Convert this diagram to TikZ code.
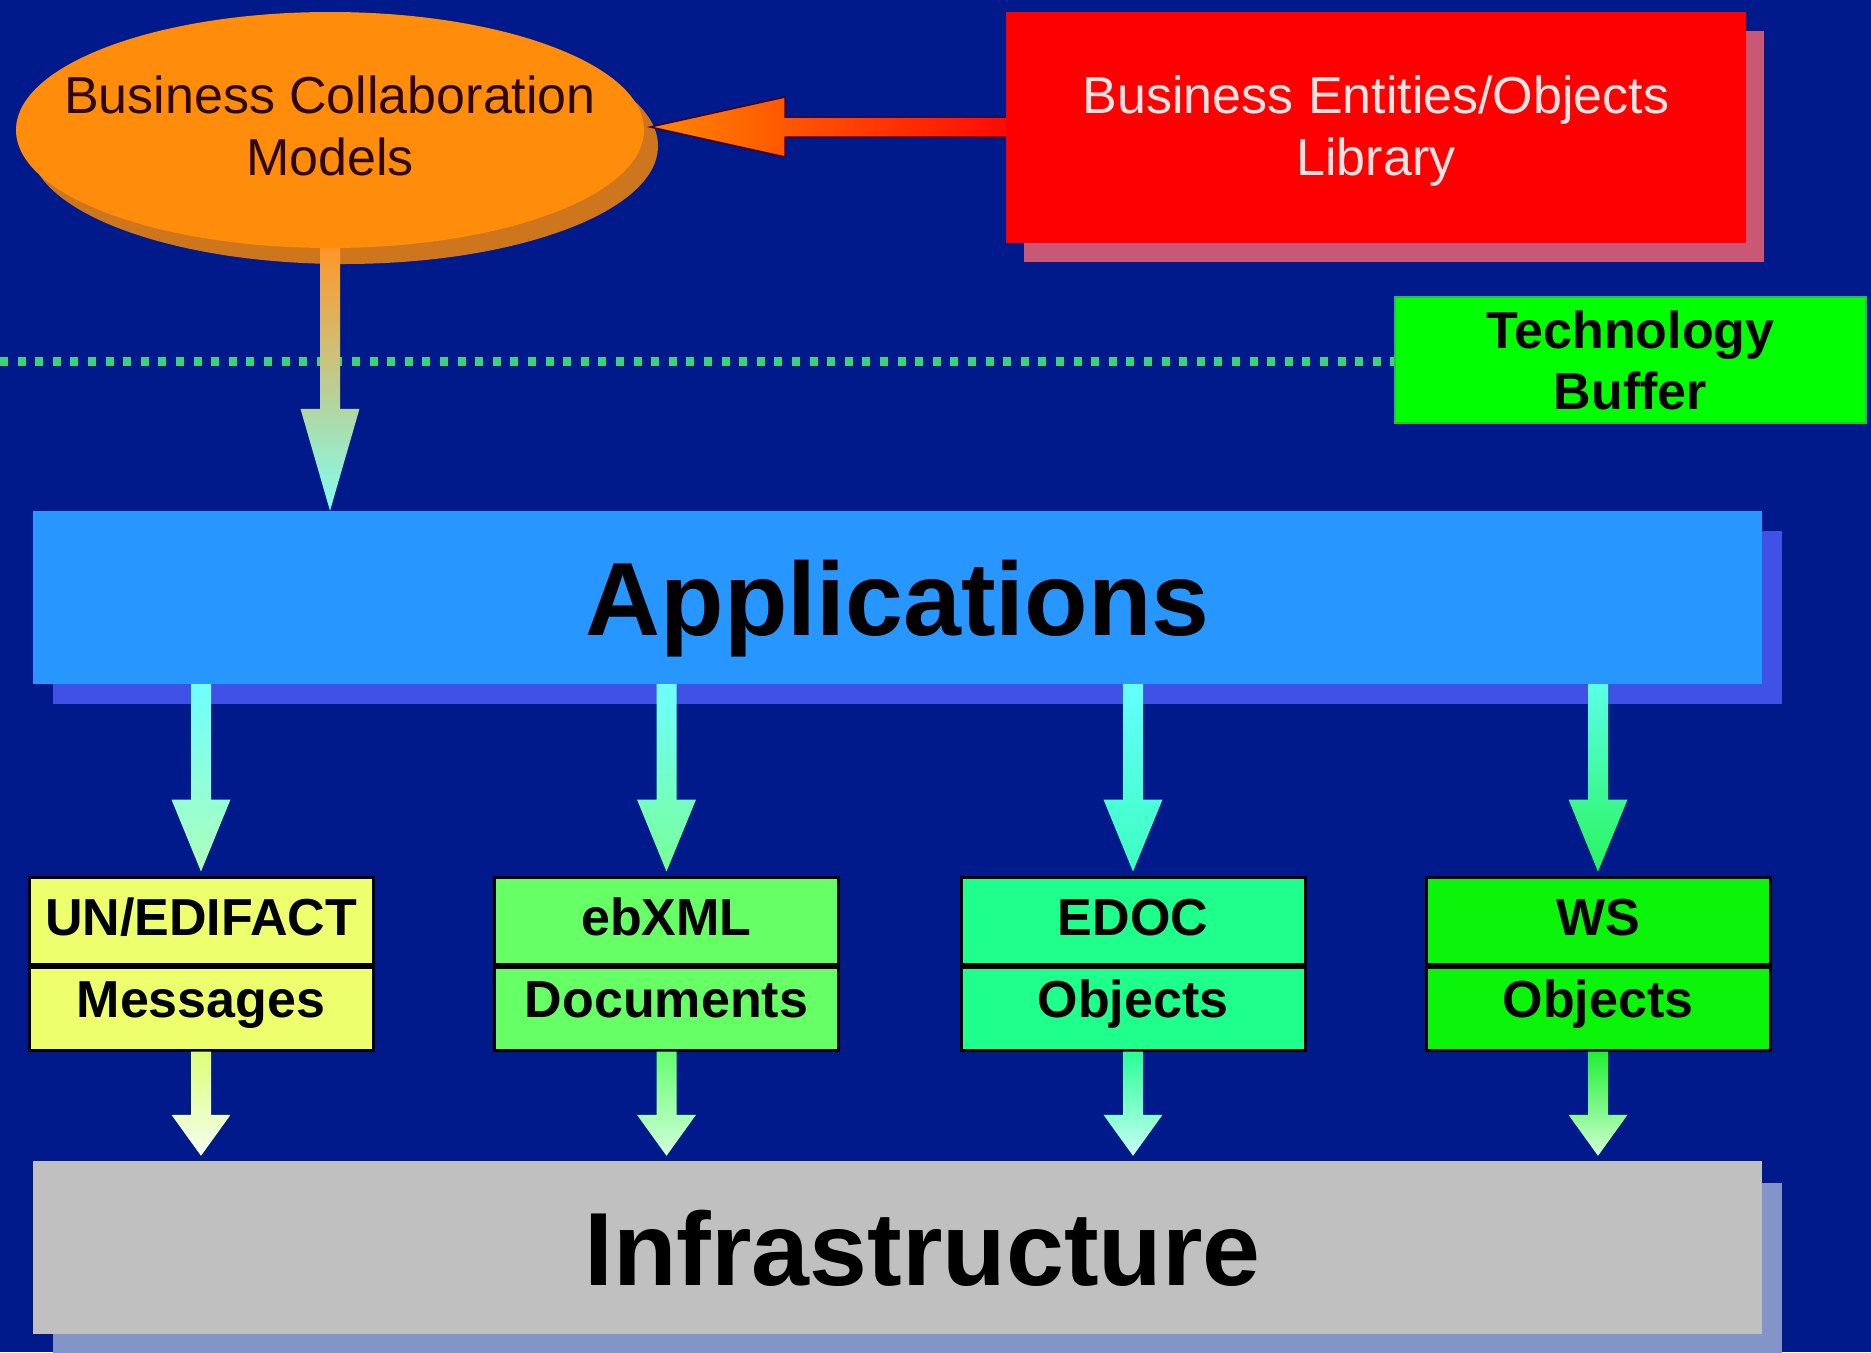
\documentclass[tikz,border=0pt]{standalone}
\usepackage{fontspec}
\setmainfont{Liberation Sans}
\usetikzlibrary{shapes.geometric,calc}
\definecolor{bgnavy}{RGB}{0,26,140}
\definecolor{ellorange}{RGB}{255,140,10}
\definecolor{ellshadow}{RGB}{205,118,30}
\definecolor{elltext}{RGB}{45,8,0}
\definecolor{libred}{RGB}{255,0,0}
\definecolor{libshadow}{RGB}{200,88,115}
\definecolor{libtext}{RGB}{255,228,228}
\definecolor{techgreen}{RGB}{0,255,0}
\definecolor{techedge}{RGB}{40,190,70}
\definecolor{dotgreen}{RGB}{60,210,125}
\definecolor{appblue}{RGB}{40,150,255}
\definecolor{appshadow}{RGB}{64,82,230}
\definecolor{infgray}{RGB}{192,192,192}
\definecolor{infshadow}{RGB}{130,148,200}
\definecolor{boxA}{RGB}{238,255,110}
\definecolor{boxB}{RGB}{102,255,102}
\definecolor{boxC}{RGB}{30,255,140}
\definecolor{boxD}{RGB}{10,245,10}
\definecolor{arrowedge}{RGB}{70,0,40}
\definecolor{raTip}{RGB}{255,135,0}
\definecolor{raMid}{RGB}{255,75,0}
\definecolor{raEnd}{RGB}{255,10,0}
\definecolor{oaTop}{RGB}{255,150,40}
\definecolor{oaMid}{RGB}{215,195,120}
\definecolor{oaBot}{RGB}{130,255,240}
\definecolor{uTopA}{RGB}{110,255,255}
\definecolor{uBotA}{RGB}{175,255,185}
\definecolor{uTopB}{RGB}{110,255,255}
\definecolor{uBotB}{RGB}{120,255,150}
\definecolor{uTopC}{RGB}{100,255,255}
\definecolor{uBotC}{RGB}{60,255,190}
\definecolor{uTopD}{RGB}{90,255,230}
\definecolor{uBotD}{RGB}{40,245,90}
\definecolor{lTopA}{RGB}{220,255,120}
\definecolor{lBotA}{RGB}{245,255,240}
\definecolor{lTopB}{RGB}{100,255,110}
\definecolor{lBotB}{RGB}{210,255,220}
\definecolor{lTopC}{RGB}{40,255,150}
\definecolor{lBotC}{RGB}{200,255,245}
\definecolor{lTopD}{RGB}{30,240,50}
\definecolor{lBotD}{RGB}{210,255,210}

\newcommand{\blockdown}[5]{%
  \shade[top color=#4, bottom color=#5]
    ($(#1)+(-10,0)$) -- ($(#2)+(-10,-#3)$) -- ($(#2)+(-29.5,-#3)$) -- (#2)
    -- ($(#2)+(29.5,-#3)$) -- ($(#2)+(10,-#3)$) -- ($(#1)+(10,0)$) -- cycle;}

\begin{document}
\begin{tikzpicture}[x=1pt,y=-1pt,
  bar/.style={rectangle, inner sep=0pt, minimum width=1729pt, minimum height=173pt,
    font=\fontsize{104}{110}\selectfont\bfseries, text depth=0pt},
  celltop/.style={rectangle, draw=black, line width=3pt, inner sep=0pt,
    minimum width=344pt, minimum height=87pt, text height=37pt, text depth=8pt,
    font=\fontsize{52}{60}\selectfont\bfseries},
  cellbot/.style={celltop, minimum height=83pt, text depth=20pt},
  plaintxt/.style={align=center, inner sep=0pt, font=\fontsize{52}{62}\selectfont},
  dotline/.style={draw=dotgreen, line width=9pt, dash pattern=on 8pt off 9.6pt}
  ]
\useasboundingbox (0,0) rectangle (1871,1352);
\fill[bgnavy] (0,0) rectangle (1871,1352);

% ellipse with shadow
\fill[ellshadow] (344,146) ellipse [x radius=314, y radius=118];
\node[ellipse, fill=ellorange, minimum width=628pt, minimum height=236pt, inner sep=0pt] (ell) at (330,130) {};
\node[plaintxt, text=elltext] (ellt) at ([yshift=4.5pt]ell.center) {Business Collaboration\\Models};

% library box
\fill[libshadow] (1024,31) rectangle (1764,262);
\node[rectangle, fill=libred, inner sep=0pt, minimum width=740pt, minimum height=231pt] (lib) at (1376,127) {};
\node[plaintxt, text=libtext] (libt) at ([yshift=-4pt]lib.center) {Business Entities/Objects\\Library};

% red arrow
\coordinate (rt) at ($(ell.east |- lib.west)+(6,0)$);
\shade[left color=raTip, middle color=raMid, right color=raEnd]
  ($(lib.west)+(0,-10)$) -- ($(rt)+(135,-10)$) -- ($(rt)+(135,-30)$) -- (rt)
  -- ($(rt)+(135,30)$) -- ($(rt)+(135,10)$) -- ($(lib.west)+(0,10)$) -- cycle;
\draw[arrowedge, line width=1.5pt, line join=miter]
  ($(lib.west)+(0,-10)$) -- ($(rt)+(135,-10)$) -- ($(rt)+(135,-30)$) -- (rt)
  -- ($(rt)+(135,30)$) -- ($(rt)+(135,10)$) -- ($(lib.west)+(0,10)$);

% technology buffer and dotted line
\node[rectangle, fill=techgreen, draw=techedge, line width=2pt, inner sep=0pt,
  minimum width=471pt, minimum height=126pt, align=center,
  font=\fontsize{52}{61}\selectfont\bfseries] (tech) at (1630.5,360) {Technology\\Buffer};
\coordinate (dl) at (0,361);
\draw[dotline] (dl) -- (dl -| tech.west);

% applications
\fill[appshadow] (53,531) rectangle (1782,704);
\node[bar, fill=appblue] (app) at (897.5,597.5) {Applications};

% orange arrow
\coordinate (oa) at (ell.south);
\coordinate (ob) at (ell.south |- app.north);
\shade[top color=oaTop, middle color=oaMid, bottom color=oaBot]
  ($(oa)+(-10,0)$) -- ($(ob)+(-10,-102)$) -- ($(ob)+(-29.5,-102)$) -- (ob)
  -- ($(ob)+(29.5,-102)$) -- ($(ob)+(10,-102)$) -- ($(oa)+(10,0)$) -- cycle;

% infrastructure
\fill[infshadow] (53,1183) rectangle (1782,1356);
\node[bar, fill=infgray] (infra) at (897.5,1247.5) {\hspace*{50pt}Infrastructure};

% boxes
\node[celltop, fill=boxA] (b1t) at (201,920.5) {UN/EDIFACT};
\node[cellbot, fill=boxA, anchor=north] (b1b) at (b1t.south) {Messages};
\node[celltop, fill=boxB] (b2t) at (666.5,920.5) {ebXML};
\node[cellbot, fill=boxB, anchor=north] (b2b) at (b2t.south) {Documents};
\node[celltop, fill=boxC] (b3t) at (1133,920.5) {EDOC};
\node[cellbot, fill=boxC, anchor=north] (b3b) at (b3t.south) {Objects};
\node[celltop, fill=boxD] (b4t) at (1598,920.5) {WS};
\node[cellbot, fill=boxD, anchor=north] (b4b) at (b4t.south) {Objects};

% arrows applications -> boxes
\coordinate (u1) at (app.south -| b1t.north); \coordinate (v1) at ($(b1t.north)+(0,-4)$);
\coordinate (u2) at (app.south -| b2t.north); \coordinate (v2) at ($(b2t.north)+(0,-4)$);
\coordinate (u3) at (app.south -| b3t.north); \coordinate (v3) at ($(b3t.north)+(0,-4)$);
\coordinate (u4) at (app.south -| b4t.north); \coordinate (v4) at ($(b4t.north)+(0,-4)$);
\blockdown{u1}{v1}{72}{uTopA}{uBotA}
\blockdown{u2}{v2}{72}{uTopB}{uBotB}
\blockdown{u3}{v3}{72}{uTopC}{uBotC}
\blockdown{u4}{v4}{72}{uTopD}{uBotD}

% arrows boxes -> infrastructure
\coordinate (w1) at (b1b.south); \coordinate (z1) at ($(b1b.south |- infra.north)+(0,-5)$);
\coordinate (w2) at (b2b.south); \coordinate (z2) at ($(b2b.south |- infra.north)+(0,-5)$);
\coordinate (w3) at (b3b.south); \coordinate (z3) at ($(b3b.south |- infra.north)+(0,-5)$);
\coordinate (w4) at (b4b.south); \coordinate (z4) at ($(b4b.south |- infra.north)+(0,-5)$);
\blockdown{w1}{z1}{41}{lTopA}{lBotA}
\blockdown{w2}{z2}{41}{lTopB}{lBotB}
\blockdown{w3}{z3}{41}{lTopC}{lBotC}
\blockdown{w4}{z4}{41}{lTopD}{lBotD}
\end{tikzpicture}
\end{document}
